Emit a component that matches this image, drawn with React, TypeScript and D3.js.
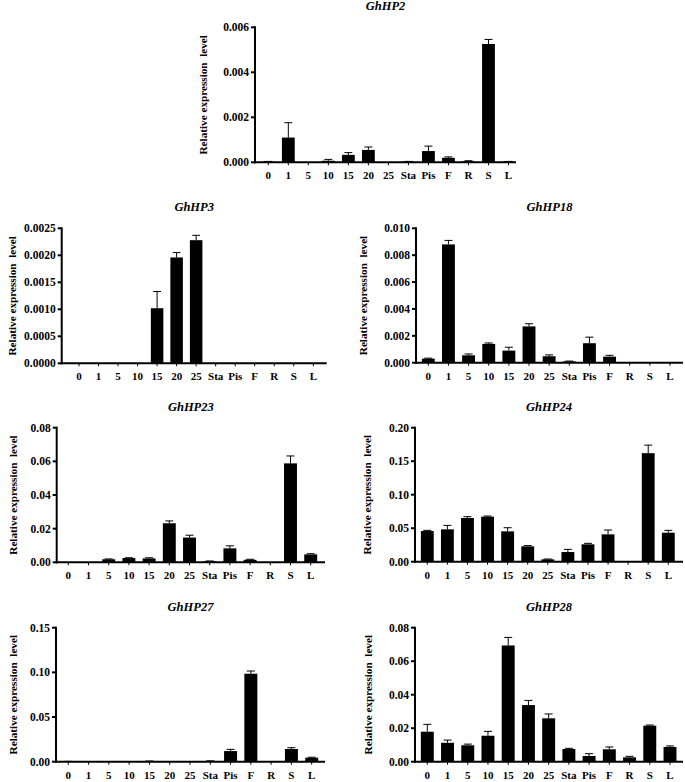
import React from "react";
import * as d3 from "d3";

const categories = ["0", "1", "5", "10", "15", "20", "25", "Sta", "Pis", "F", "R", "S", "L"];

const hp2Mean = [0.00003, 0.0011, 0, 0.00007, 0.00033, 0.00055, 0, 0.00003, 0.0005, 0.0002, 0.00005, 0.00526, 0.00003];
const hp2Err = [0.00001, 0.00066, 0, 0.00006, 0.0001, 0.00013, 0, 0.00001, 0.00022, 0.00004, 0.00002, 0.0002, 0.00001];

const hp3Mean = [0, 0, 0, 0, 0.00102, 0.00196, 0.00228, 0, 0, 0, 0, 0, 0];
const hp3Err = [0, 0, 0, 0, 0.00031, 0.00009, 0.00009, 0, 0, 0, 0, 0, 0];

const hp18Mean = [0.0003, 0.0088, 0.00055, 0.0014, 0.0009, 0.0027, 0.00048, 0.0001, 0.00145, 0.00045, 0, 0, 0];
const hp18Err = [0.00004, 0.0003, 0.0001, 0.00007, 0.00025, 0.0002, 0.0001, 0.00002, 0.00045, 0.0001, 0, 0, 0];

const hp23Mean = [0, 0, 0.0018, 0.0025, 0.0023, 0.0232, 0.0147, 0.0007, 0.0083, 0.0015, 0, 0.0588, 0.0047];
const hp23Err = [0, 0, 0.0002, 0.0002, 0.0004, 0.0014, 0.0014, 0.0001, 0.0015, 0.0003, 0, 0.0044, 0.0004];

const hp24Mean = [0.0458, 0.0483, 0.0652, 0.0672, 0.0453, 0.0229, 0.0035, 0.0144, 0.0259, 0.0408, 0, 0.162, 0.0433];
const hp24Err = [0.001, 0.0059, 0.002, 0.001, 0.0054, 0.0011, 0.0005, 0.004, 0.0015, 0.0065, 0, 0.012, 0.0035];

const hp27Mean = [0.0003, 0, 0, 0, 0.0006, 0.0002, 0.0002, 0.0008, 0.0119, 0.0985, 0, 0.0142, 0.0045];
const hp27Err = [0.0001, 0, 0, 0, 0.0002, 0, 0, 0.0002, 0.0019, 0.003, 0, 0.0015, 0.0005];

const hp28Mean = [0.0179, 0.0113, 0.0098, 0.0155, 0.0694, 0.0338, 0.0259, 0.0076, 0.0034, 0.0074, 0.0026, 0.0215, 0.0088];
const hp28Err = [0.0044, 0.0016, 0.0007, 0.0026, 0.0048, 0.0028, 0.0026, 0.0004, 0.0014, 0.0014, 0.0006, 0.0004, 0.0006];

const hp2Ticks = [0, 0.002, 0.004, 0.006];
const hp3Ticks = [0, 0.0005, 0.001, 0.0015, 0.002, 0.0025];
const hp18Ticks = [0, 0.002, 0.004, 0.006, 0.008, 0.01];
const hp23Ticks = [0, 0.02, 0.04, 0.06, 0.08];
const hp24Ticks = [0, 0.05, 0.1, 0.15, 0.2];
const hp27Ticks = [0, 0.05, 0.1, 0.15];
const hp28Ticks = [0, 0.02, 0.04, 0.06, 0.08];

const yLabel = "Relative expression  level";
const FONT = "Liberation Serif";

type PanelProps = {
  title: string;
  mean: number[];
  err: number[];
  ticks: number[];
  fmt: string;
  axisX: number;
  axisEnd: number;
  firstX: number;
  lastX: number;
  yTop: number;
  yBottom: number;
  labelX: number;
};

function Panel(p: PanelProps) {
  const yMax = p.ticks[p.ticks.length - 1];
  const y = d3.scaleLinear().domain([0, yMax]).range([p.yBottom, p.yTop]);
  const x = d3.scalePoint<string>().domain(categories).range([p.firstX, p.lastX]);
  const step = x.step();
  const bw = step * 0.64;
  const cap = bw * 0.62;
  const f = d3.format(p.fmt);
  const cx = (p.axisX + p.axisEnd) / 2;
  const cy = (p.yTop + p.yBottom) / 2;
  return (
    <g fontFamily={FONT} fontWeight="bold">
      <text x={cx} y={p.yTop - 17} textAnchor="middle" fontSize={12.5} fontStyle="italic">
        {p.title}
      </text>
      <text
        transform={`translate(${p.labelX},${cy}) rotate(-90)`}
        textAnchor="middle"
        dominantBaseline="central"
        fontSize={11.2}
        style={{ whiteSpace: "pre" }}
      >
        {yLabel}
      </text>
      {categories.map((c, i) => {
        const m = p.mean[i];
        const e = p.err[i];
        const xc = x(c)!;
        if (m <= 0) return null;
        const top = y(m);
        const et = y(m + e);
        return (
          <g key={c}>
            <rect x={xc - bw / 2} y={top} width={bw} height={p.yBottom - top} fill="#000" />
            {e > 0 && (
              <g stroke="#000" strokeWidth={1}>
                <line x1={xc} x2={xc} y1={top} y2={et} />
                <line x1={xc - cap / 2} x2={xc + cap / 2} y1={et} y2={et} />
              </g>
            )}
          </g>
        );
      })}
      <line x1={p.axisX} x2={p.axisX} y1={p.yTop - 1} y2={p.yBottom + 1} stroke="#000" strokeWidth={2} />
      <line x1={p.axisX - 1} x2={p.axisEnd} y1={p.yBottom} y2={p.yBottom} stroke="#000" strokeWidth={2} />
      {p.ticks.map((t) => (
        <g key={t}>
          <line x1={p.axisX - 4} x2={p.axisX} y1={y(t)} y2={y(t)} stroke="#000" strokeWidth={2} />
          <text x={p.axisX - 6} y={y(t)} textAnchor="end" dominantBaseline="central" fontSize={11.5}>
            {f(t)}
          </text>
        </g>
      ))}
      {categories.map((c) => (
        <g key={"x" + c}>
          <line x1={x(c)!} x2={x(c)!} y1={p.yBottom} y2={p.yBottom + 3} stroke="#000" strokeWidth={1} />
          <text x={x(c)!} y={p.yBottom + 13} textAnchor="middle" dominantBaseline="central" fontSize={11}>
            {c}
          </text>
        </g>
      ))}
    </g>
  );
}

export default function App() {
  return (
    <svg
      width={685}
      height={782}
      style={{ position: "absolute", left: 0, top: 0, background: "#fff" }}
    >
      <rect width={685} height={782} fill="#fff" />
      <Panel title="GhHP2" mean={hp2Mean} err={hp2Err} ticks={hp2Ticks} fmt=".3f"
        axisX={255} axisEnd={516} firstX={268.3} lastX={508.5} yTop={27.3} yBottom={162.3} labelX={203} />
      <Panel title="GhHP3" mean={hp3Mean} err={hp3Err} ticks={hp3Ticks} fmt=".4f"
        axisX={61.7} axisEnd={326.7} firstX={79} lastX={313.3} yTop={228.3} yBottom={363.3} labelX={12} />
      <Panel title="GhHP18" mean={hp18Mean} err={hp18Err} ticks={hp18Ticks} fmt=".3f"
        axisX={416} axisEnd={683} firstX={428.3} lastX={670} yTop={228.3} yBottom={362.7} labelX={363} />
      <Panel title="GhHP23" mean={hp23Mean} err={hp23Err} ticks={hp23Ticks} fmt=".2f"
        axisX={56.7} axisEnd={325} firstX={68.3} lastX={310.7} yTop={427.7} yBottom={562.3} labelX={13} />
      <Panel title="GhHP24" mean={hp24Mean} err={hp24Err} ticks={hp24Ticks} fmt=".2f"
        axisX={415} axisEnd={683} firstX={427.3} lastX={668.3} yTop={427.7} yBottom={561.7} labelX={367} />
      <Panel title="GhHP27" mean={hp27Mean} err={hp27Err} ticks={hp27Ticks} fmt=".2f"
        axisX={56} axisEnd={325} firstX={68.3} lastX={311.7} yTop={627.7} yBottom={761.7} labelX={13} />
      <Panel title="GhHP28" mean={hp28Mean} err={hp28Err} ticks={hp28Ticks} fmt=".2f"
        axisX={415} axisEnd={683} firstX={427.3} lastX={670} yTop={627.7} yBottom={761.7} labelX={368} />
    </svg>
  );
}
